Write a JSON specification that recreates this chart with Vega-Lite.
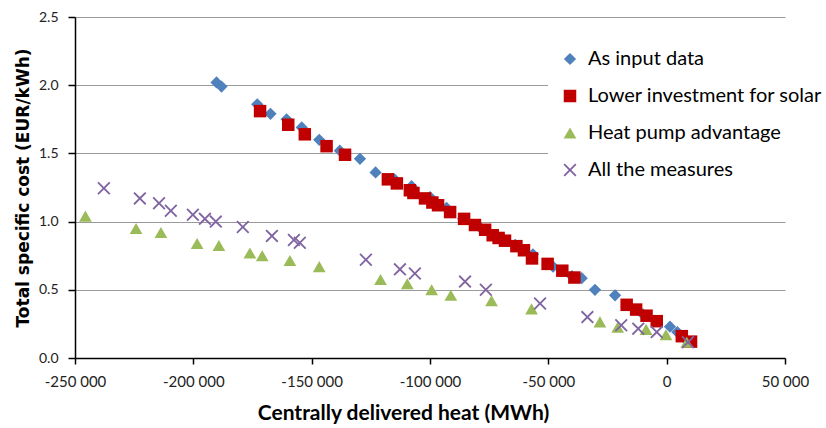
{
  "$schema": "https://vega.github.io/schema/vega-lite/v6.json",
  "width": 710,
  "height": 341,
  "autosize": "none",
  "padding": {"left": 75, "top": 17, "right": 41, "bottom": 70},
  "background": "white",
  "config": {"view": {"stroke": null}, "font": "Lato"},
  "data": {"values": [
    {"series": "As input data", "heat": -190200, "cost": 2.02},
    {"series": "As input data", "heat": -188100, "cost": 1.99},
    {"series": "As input data", "heat": -173000, "cost": 1.86},
    {"series": "As input data", "heat": -167400, "cost": 1.79},
    {"series": "As input data", "heat": -160600, "cost": 1.75},
    {"series": "As input data", "heat": -154200, "cost": 1.69},
    {"series": "As input data", "heat": -146800, "cost": 1.6},
    {"series": "As input data", "heat": -138100, "cost": 1.52},
    {"series": "As input data", "heat": -129600, "cost": 1.46},
    {"series": "As input data", "heat": -123000, "cost": 1.36},
    {"series": "As input data", "heat": -115000, "cost": 1.31},
    {"series": "As input data", "heat": -107800, "cost": 1.26},
    {"series": "As input data", "heat": -100000, "cost": 1.18},
    {"series": "As input data", "heat": -93000, "cost": 1.1},
    {"series": "As input data", "heat": -86000, "cost": 1.02},
    {"series": "As input data", "heat": -79000, "cost": 0.96},
    {"series": "As input data", "heat": -72000, "cost": 0.9},
    {"series": "As input data", "heat": -64000, "cost": 0.83},
    {"series": "As input data", "heat": -56500, "cost": 0.76},
    {"series": "As input data", "heat": -48000, "cost": 0.67},
    {"series": "As input data", "heat": -40000, "cost": 0.6},
    {"series": "As input data", "heat": -35900, "cost": 0.585},
    {"series": "As input data", "heat": -30300, "cost": 0.5},
    {"series": "As input data", "heat": -21800, "cost": 0.46},
    {"series": "As input data", "heat": -10000, "cost": 0.32},
    {"series": "As input data", "heat": 1400, "cost": 0.23},
    {"series": "As input data", "heat": 4500, "cost": 0.19},
    {"series": "As input data", "heat": 9000, "cost": 0.12},
    {"series": "Lower investment for solar", "heat": -171800, "cost": 1.81},
    {"series": "Lower investment for solar", "heat": -159900, "cost": 1.71},
    {"series": "Lower investment for solar", "heat": -152900, "cost": 1.64},
    {"series": "Lower investment for solar", "heat": -143700, "cost": 1.553},
    {"series": "Lower investment for solar", "heat": -135900, "cost": 1.49},
    {"series": "Lower investment for solar", "heat": -117800, "cost": 1.31},
    {"series": "Lower investment for solar", "heat": -114000, "cost": 1.28},
    {"series": "Lower investment for solar", "heat": -108500, "cost": 1.23},
    {"series": "Lower investment for solar", "heat": -107000, "cost": 1.21},
    {"series": "Lower investment for solar", "heat": -102100, "cost": 1.17},
    {"series": "Lower investment for solar", "heat": -99000, "cost": 1.14},
    {"series": "Lower investment for solar", "heat": -96600, "cost": 1.12},
    {"series": "Lower investment for solar", "heat": -91500, "cost": 1.07},
    {"series": "Lower investment for solar", "heat": -85600, "cost": 1.02},
    {"series": "Lower investment for solar", "heat": -81000, "cost": 0.975},
    {"series": "Lower investment for solar", "heat": -76700, "cost": 0.94},
    {"series": "Lower investment for solar", "heat": -73500, "cost": 0.9},
    {"series": "Lower investment for solar", "heat": -71000, "cost": 0.88},
    {"series": "Lower investment for solar", "heat": -68300, "cost": 0.86},
    {"series": "Lower investment for solar", "heat": -63500, "cost": 0.82},
    {"series": "Lower investment for solar", "heat": -60300, "cost": 0.79},
    {"series": "Lower investment for solar", "heat": -56900, "cost": 0.73},
    {"series": "Lower investment for solar", "heat": -50300, "cost": 0.69},
    {"series": "Lower investment for solar", "heat": -44100, "cost": 0.64},
    {"series": "Lower investment for solar", "heat": -39000, "cost": 0.59},
    {"series": "Lower investment for solar", "heat": -16900, "cost": 0.39},
    {"series": "Lower investment for solar", "heat": -12900, "cost": 0.355},
    {"series": "Lower investment for solar", "heat": -8500, "cost": 0.31},
    {"series": "Lower investment for solar", "heat": -4200, "cost": 0.27},
    {"series": "Lower investment for solar", "heat": 6400, "cost": 0.16},
    {"series": "Lower investment for solar", "heat": 10300, "cost": 0.12},
    {"series": "Heat pump advantage", "heat": -245600, "cost": 1.04},
    {"series": "Heat pump advantage", "heat": -224200, "cost": 0.95},
    {"series": "Heat pump advantage", "heat": -213700, "cost": 0.92},
    {"series": "Heat pump advantage", "heat": -198400, "cost": 0.84},
    {"series": "Heat pump advantage", "heat": -189200, "cost": 0.825},
    {"series": "Heat pump advantage", "heat": -176100, "cost": 0.77},
    {"series": "Heat pump advantage", "heat": -170900, "cost": 0.75},
    {"series": "Heat pump advantage", "heat": -159200, "cost": 0.715},
    {"series": "Heat pump advantage", "heat": -146800, "cost": 0.67},
    {"series": "Heat pump advantage", "heat": -120900, "cost": 0.575},
    {"series": "Heat pump advantage", "heat": -109600, "cost": 0.545},
    {"series": "Heat pump advantage", "heat": -99300, "cost": 0.5},
    {"series": "Heat pump advantage", "heat": -91200, "cost": 0.46},
    {"series": "Heat pump advantage", "heat": -74000, "cost": 0.42},
    {"series": "Heat pump advantage", "heat": -57100, "cost": 0.36},
    {"series": "Heat pump advantage", "heat": -28200, "cost": 0.265},
    {"series": "Heat pump advantage", "heat": -20700, "cost": 0.225},
    {"series": "Heat pump advantage", "heat": -8700, "cost": 0.21},
    {"series": "Heat pump advantage", "heat": -300, "cost": 0.17},
    {"series": "Heat pump advantage", "heat": 8500, "cost": 0.115},
    {"series": "All the measures", "heat": -237800, "cost": 1.245},
    {"series": "All the measures", "heat": -222600, "cost": 1.17},
    {"series": "All the measures", "heat": -214500, "cost": 1.135},
    {"series": "All the measures", "heat": -209500, "cost": 1.08},
    {"series": "All the measures", "heat": -200200, "cost": 1.05},
    {"series": "All the measures", "heat": -195100, "cost": 1.02},
    {"series": "All the measures", "heat": -190500, "cost": 1.0},
    {"series": "All the measures", "heat": -179100, "cost": 0.96},
    {"series": "All the measures", "heat": -166800, "cost": 0.895},
    {"series": "All the measures", "heat": -157500, "cost": 0.865},
    {"series": "All the measures", "heat": -155000, "cost": 0.845},
    {"series": "All the measures", "heat": -127100, "cost": 0.72},
    {"series": "All the measures", "heat": -112700, "cost": 0.65},
    {"series": "All the measures", "heat": -106400, "cost": 0.62},
    {"series": "All the measures", "heat": -85200, "cost": 0.56},
    {"series": "All the measures", "heat": -76400, "cost": 0.5},
    {"series": "All the measures", "heat": -53500, "cost": 0.4},
    {"series": "All the measures", "heat": -33500, "cost": 0.3},
    {"series": "All the measures", "heat": -19200, "cost": 0.24},
    {"series": "All the measures", "heat": -12000, "cost": 0.215},
    {"series": "All the measures", "heat": -4200, "cost": 0.19},
    {"series": "All the measures", "heat": 9000, "cost": 0.115}
  ]},
  "mark": {"type": "point", "filled": true, "opacity": 1, "strokeWidth": 0},
  "encoding": {
    "x": {
      "field": "heat", "type": "quantitative",
      "scale": {"domain": [-250000, 50000], "nice": false, "zero": false},
      "axis": {
        "title": "Centrally delivered heat (MWh)",
        "values": [-250000, -200000, -150000, -100000, -50000, 0, 50000],
        "labelExpr": "replace(replace(format(datum.value, ','), ',', ' '), '\u2212', '-')",
        "grid": false,
        "domainColor": "#000000", "domainWidth": 1.5,
        "tickColor": "#000000", "tickWidth": 1.5, "tickSize": 6,
        "labelFontSize": 15, "labelColor": "#222222", "labelPadding": 10,
        "labelFlush": false,
        "titleFont": "Lato", "titleFontSize": 21, "titleFontWeight": "bold", "titleColor": "#000000",
        "titleX": 328, "titleY": 55, "titleAlign": "center", "titleBaseline": "middle"
      }
    },
    "y": {
      "field": "cost", "type": "quantitative",
      "scale": {"domain": [0, 2.5], "nice": false},
      "axis": {
        "title": "Total specific cost (EUR/kWh)",
        "values": [0, 0.5, 1, 1.5, 2, 2.5],
        "format": ".1f",
        "grid": true, "gridColor": "#9a9a9a", "gridWidth": 1,
        "domainColor": "#000000", "domainWidth": 1.5,
        "tickColor": "#000000", "tickWidth": 1.5, "tickSize": 7,
        "labelFontSize": 14, "labelColor": "#222222", "labelPadding": 10,
        "titleFont": "DejaVu Sans", "titleFontSize": 17, "titleFontWeight": "bold", "titleColor": "#000000",
        "titlePadding": 6
      }
    },
    "color": {
      "field": "series", "type": "nominal",
      "scale": {
        "domain": ["As input data", "Lower investment for solar", "Heat pump advantage", "All the measures"],
        "range": ["#4F81BD", "#C00000", "#9BBB59", "#8064A2"]
      },
      "legend": {
        "title": null, "orient": "none", "legendX": 473, "legendY": 20,
        "fillColor": "#ffffff", "padding": 12,
        "symbolSize": 70, "labelFontSize": 20, "labelFont": "Lato", "labelColor": "#000000",
        "labelOffset": 8, "rowPadding": 17, "symbolStrokeWidth": 0, "labelLimit": 0
      }
    },
    "shape": {
      "field": "series", "type": "nominal",
      "scale": {
        "domain": ["As input data", "Lower investment for solar", "Heat pump advantage", "All the measures"],
        "range": ["diamond", "square", "triangle-up", "M-0.8,-1L0,-0.2L0.8,-1L1,-0.8L0.2,0L1,0.8L0.8,1L0,0.2L-0.8,1L-1,0.8L-0.2,0L-1,-0.8Z"]
      }
    },
    "size": {
      "field": "series", "type": "nominal",
      "scale": {
        "domain": ["As input data", "Lower investment for solar", "Heat pump advantage", "All the measures"],
        "range": [150, 169, 130, 121]
      },
      "legend": null
    }
  }
}
